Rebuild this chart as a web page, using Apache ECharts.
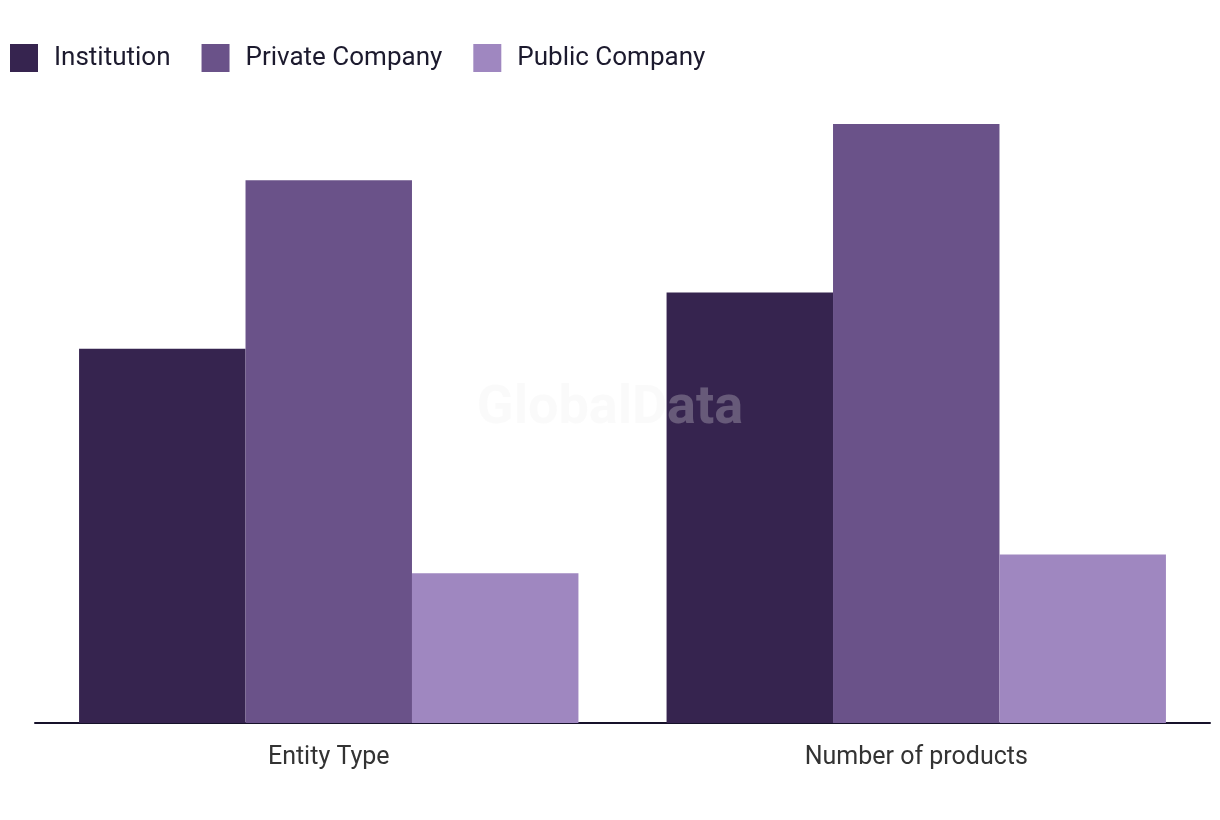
<!DOCTYPE html>
<html>
<head>
<meta charset="utf-8">
<script src="https://cdn.jsdelivr.net/npm/echarts@6/dist/echarts.min.js"></script>
<style>html,body{margin:0;padding:0;background:#fff}#c{width:1220px;height:820px}</style>
</head>
<body>
<div id="c"></div>
<script>
const categories = ['Entity Type', 'Number of products'];
const seriesNames = ['Institution', 'Private Company', 'Public Company'];
const institution = [20, 23];
const privateCompany = [29, 32];
const publicCompany = [8, 9];
const colors = ['#36244f', '#6a5289', '#9f87c0'];

const chart = echarts.init(document.getElementById('c'));
const values = [institution, privateCompany, publicCompany];
chart.setOption({
  animation: false,
  backgroundColor: '#ffffff',
  textStyle: { fontFamily: 'Roboto' },
  legend: {
    left: 10, top: 44, padding: 0,
    itemWidth: 28, itemHeight: 28, itemGap: 31,
    icon: 'rect',
    textStyle: { fontSize: 26, color: '#1c1a2e', padding: [0, 0, 0, 11], fontFamily: 'Roboto' },
    data: seriesNames
  },
  graphic: [{
    type: 'text', left: 'center', top: 382, z: 100,
    style: { text: 'GlobalData', font: 'bold 54px Roboto', fill: 'rgba(235,235,235,0.27)' }
  }],
  grid: { left: 35, right: 10, top: 124, bottom: 97 },
  xAxis: {
    type: 'category', data: categories,
    axisLine: { show: true, lineStyle: { color: '#16112a', width: 2 } },
    axisTick: { show: false },
    axisLabel: { fontSize: 25, color: '#333333', margin: 22, fontFamily: 'Roboto' }
  },
  yAxis: {
    type: 'value', min: 0, max: 32,
    axisLine: { show: false }, axisTick: { show: false },
    axisLabel: { show: false }, splitLine: { show: false }
  },
  series: seriesNames.map((n, i) => ({
    name: n, type: 'bar', data: values[i],
    itemStyle: { color: colors[i] },
    barGap: '0%', barCategoryGap: '15%'
  }))
});
</script>
</body>
</html>
